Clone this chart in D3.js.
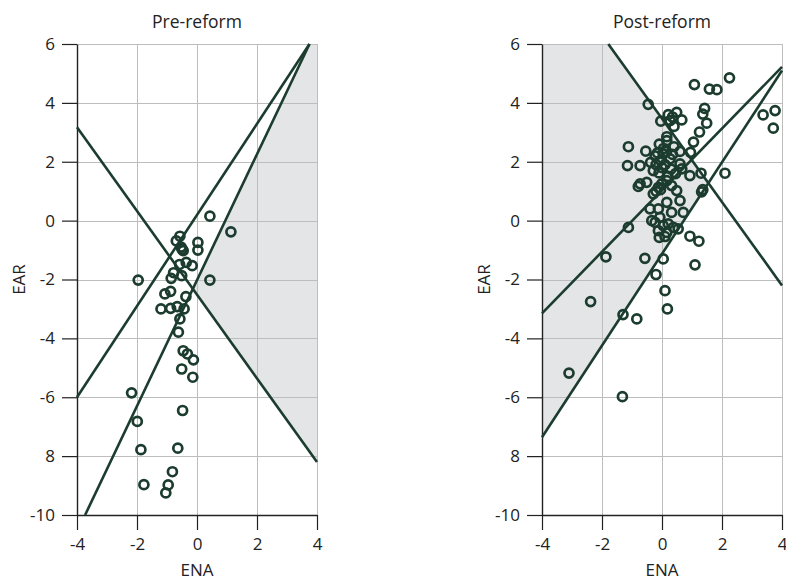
<!DOCTYPE html>
<html>
<head>
<meta charset="utf-8">
<script src="https://cdn.jsdelivr.net/npm/d3@7"></script>
<style>
  body { margin: 0; background: #fff; }
  text { font-family: "Open Sans", "Noto Sans", sans-serif; fill: #222; }
</style>
</head>
<body>
<div id="chart"></div>
<script>
// axis values
var xTicks = [-4, -2, 0, 2, 4];
var xTickLabels = ["-4", "-2", "0", "2", "4"];
var yTicks = [6, 4, 2, 0, -2, -4, -6, -8, -10];
var yTickLabels = ["6", "4", "2", "0", "-2", "-4", "-6", "8", "-10"];

// lines as [x1, y1, x2, y2]
var preLines = [
  [-4, -6, 3.75, 6],
  [-3.73, -10, 3.75, 6],
  [-4, 3.17, 4, -8.2]
];
var postLines = [
  [-1.79, 6, 4, -2.2],
  [-4, -3.15, 4, 5.22],
  [-4, -7.36, 4, 5.1]
];

// points [ENA, EAR]
var prePoints = [
  [0.43, 0.15], [1.13, -0.38], [-0.57, -0.53], [-0.69, -0.69], [0.03, -0.74],
  [0.03, -1.0], [-0.53, -0.9], [-0.46, -1.02], [-0.5, -0.97], [-0.36, -1.42],
  [-0.16, -1.53], [-0.58, -1.49], [-0.78, -1.77], [-0.86, -1.96], [-0.51, -1.87],
  [-1.96, -2.02], [0.43, -2.02], [-1.07, -2.49], [-0.88, -2.4], [-0.37, -2.58],
  [-1.2, -3.0], [-0.88, -2.98], [-0.66, -2.92], [-0.43, -3.0], [-0.57, -3.34],
  [-0.62, -3.79], [-0.46, -4.42], [-0.32, -4.53], [-0.12, -4.73], [-0.51, -5.04],
  [-0.14, -5.32], [-2.18, -5.85], [-0.48, -6.45], [-1.99, -6.82], [-1.87, -7.78],
  [-0.64, -7.73], [-0.82, -8.53], [-1.77, -8.97], [-0.96, -8.98], [-1.04, -9.25]
];
var postPoints = [
  [1.08, 4.62], [1.58, 4.47], [1.83, 4.45], [2.25, 4.85], [-0.46, 3.95],
  [1.42, 3.81], [1.36, 3.62], [1.49, 3.31], [1.25, 3.01], [1.05, 2.67],
  [0.95, 2.32], [3.37, 3.59], [3.77, 3.74], [3.71, 3.14],
  [0.21, 3.6], [0.49, 3.68], [0.35, 3.52], [-0.04, 3.38], [0.27, 3.4],
  [0.66, 3.42], [0.4, 3.2], [0.16, 2.85], [0.16, 2.72],
  [-1.12, 2.51], [-0.54, 2.36], [-0.09, 2.6], [0.4, 2.51], [0.6, 2.35],
  [-1.15, 1.87], [-0.73, 1.87], [-0.38, 1.98], [-0.23, 2.2], [0.04, 2.27],
  [0.27, 2.1], [0.6, 1.93], [0.66, 1.76], [0.93, 1.53], [1.3, 1.61],
  [2.1, 1.61], [-0.29, 1.7], [-0.1, 1.62], [0.1, 1.9], [0.2, 1.5],
  [0.45, 1.6], [-0.05, 2.05], [0.15, 2.35], [-0.2, 1.9], [0.3, 1.75],
  [0.05, 2.45], [-0.15, 2.3], [0.35, 2.25], [0.0, 1.8],
  [-0.73, 1.25], [-0.79, 1.16], [-0.51, 1.3], [-0.29, 0.91], [-0.12, 1.13],
  [-0.01, 1.25], [0.16, 1.36], [0.32, 1.19], [0.49, 1.02], [0.6, 0.68],
  [1.32, 0.98], [1.36, 1.05], [-0.2, 1.0], [-0.05, 1.05],
  [0.16, 0.62], [-0.12, 0.4], [-0.4, 0.4], [0.32, 0.28], [0.71, 0.28],
  [-0.34, 0.0], [-0.23, -0.06], [-0.07, 0.11], [0.04, -0.17], [0.21, -0.11],
  [0.38, -0.23], [0.54, -0.28], [-0.12, -0.34], [0.16, -0.4],
  [-1.12, -0.23], [0.93, -0.53], [1.23, -0.7],
  [-1.87, -1.23], [-0.57, -1.28], [0.04, -1.3], [-0.09, -0.57], [0.1, -0.54],
  [1.1, -1.5], [-0.2, -1.83], [0.1, -2.38], [0.18, -3.0], [-1.3, -3.19],
  [-0.84, -3.34], [-2.38, -2.75], [-3.1, -5.18], [-1.32, -5.98]
];

var lineColor = "#1b3c2e";

function intersect(a, b) {
  var s1 = (a[3] - a[1]) / (a[2] - a[0]);
  var s2 = (b[3] - b[1]) / (b[2] - b[0]);
  var x = (b[1] - a[1] + s1 * a[0] - s2 * b[0]) / (s1 - s2);
  return [x, a[1] + s1 * (x - a[0])];
}

// snap a coordinate onto the pixel grid so 1px lines stay crisp
function crisp(v) {
  return Math.round(v) + 0.5;
}

var width = 786;
var height = 581;

var svg = d3.select("div#chart")
  .append("svg")
  .attr("width", width)
  .attr("height", height);

function makePanel(left, title, lines, points, shade) {
  var top = 44, bottom = 515, plotW = 240;

  var x = d3.scaleLinear().domain([-4, 4]).range([left, left + plotW]);
  var y = d3.scaleLinear().domain([-10, 6]).range([bottom, top]);

  var g = svg.append("g");

  // shaded area
  var poly = shade.map(function(p) { return [x(p[0]), y(p[1])]; });
  g.append("path")
    .attr("d", "M" + poly.join("L") + "Z")
    .attr("fill", "#e4e5e7");

  // grid
  g.append("g").selectAll("line")
    .data(xTicks.slice(1))
    .enter().append("line")
    .attr("x1", function(d) { return crisp(x(d)); })
    .attr("x2", function(d) { return crisp(x(d)); })
    .attr("y1", top).attr("y2", bottom)
    .attr("stroke", "#bdbdbd").attr("stroke-width", 1);

  g.append("g").selectAll("line")
    .data(yTicks.slice(0, -1))
    .enter().append("line")
    .attr("y1", function(d) { return crisp(y(d)); })
    .attr("y2", function(d) { return crisp(y(d)); })
    .attr("x1", left).attr("x2", left + plotW)
    .attr("stroke", "#bdbdbd").attr("stroke-width", 1);

  // axes
  var xAxis = d3.axisBottom(x).tickValues(xTicks).tickSize(15).tickSizeOuter(0).tickPadding(8)
    .tickFormat(function(d, i) { return xTickLabels[i]; });
  var yAxis = d3.axisLeft(y).tickValues(yTicks).tickSize(15).tickSizeOuter(0).tickPadding(7)
    .tickFormat(function(d, i) { return yTickLabels[i]; });

  var gx = g.append("g")
    .attr("transform", "translate(0," + bottom + ")")
    .call(xAxis);
  var gy = g.append("g")
    .attr("transform", "translate(" + left + ",0)")
    .call(yAxis);

  [gx, gy].forEach(function(a) {
    a.select(".domain").attr("stroke", "#222").attr("stroke-width", 1.4);
    a.selectAll(".tick line").attr("stroke", "#222").attr("stroke-width", 1.2);
    a.selectAll(".tick text")
      .style("font-family", "'Open Sans', 'Noto Sans', sans-serif")
      .style("font-size", "17px")
      .attr("fill", "#222");
  });

  // lines
  g.append("g").selectAll("line")
    .data(lines)
    .enter().append("line")
    .attr("x1", function(d) { return x(d[0]); })
    .attr("y1", function(d) { return y(d[1]); })
    .attr("x2", function(d) { return x(d[2]); })
    .attr("y2", function(d) { return y(d[3]); })
    .attr("stroke", lineColor)
    .attr("stroke-width", 2.6);

  // points
  g.append("g").selectAll("circle")
    .data(points)
    .enter().append("circle")
    .attr("cx", function(d) { return x(d[0]); })
    .attr("cy", function(d) { return y(d[1]); })
    .attr("r", 4.5)
    .attr("fill", "none")
    .attr("stroke", lineColor)
    .attr("stroke-width", 2.7);

  // labels
  g.append("text")
    .attr("x", left + plotW / 2)
    .attr("y", 28)
    .attr("text-anchor", "middle")
    .style("font-size", "17.5px")
    .text(title);

  g.append("text")
    .attr("x", left + plotW / 2)
    .attr("y", 576)
    .attr("text-anchor", "middle")
    .style("font-size", "17px")
    .text("ENA");

  g.append("text")
    .attr("transform", "translate(" + (left - 52) + "," + ((top + bottom) / 2) + ") rotate(-90)")
    .attr("text-anchor", "middle")
    .style("font-size", "17px")
    .text("EAR");
}

var preShade = [
  intersect(preLines[1], preLines[2]),
  [preLines[1][2], preLines[1][3]],
  [4, 6],
  [preLines[2][2], preLines[2][3]]
];
var postShade = [
  [-4, 6],
  [postLines[0][0], postLines[0][1]],
  intersect(postLines[0], postLines[2]),
  [postLines[2][0], postLines[2][1]]
];

makePanel(77, "Pre-reform", preLines, prePoints, preShade);
makePanel(542, "Post-reform", postLines, postPoints, postShade);
</script>
</body>
</html>
